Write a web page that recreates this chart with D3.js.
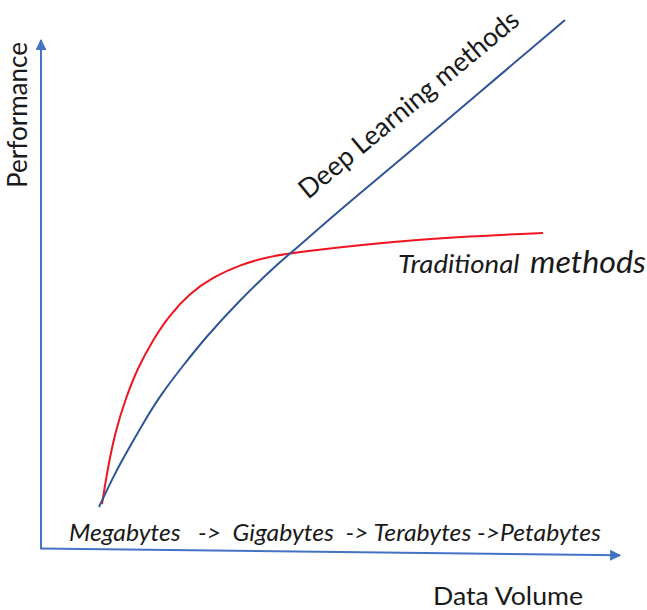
<!DOCTYPE html>
<html><head><meta charset="utf-8">
<script src="https://cdn.jsdelivr.net/npm/d3@7"></script>
<style>
html,body{margin:0;padding:0;background:#fff;}
svg{display:block;}
text{font-family:Lato,"Open Sans",sans-serif;fill:#1a1a1a;white-space:pre;}
</style></head>
<body>
<div id="chart"></div>
<script>
// Data (x: data volume 0-100, y: performance 0-100)
const deepX = [10.17, 12.93, 15.17, 18.10, 21.03, 24.48, 28.45, 34.48, 40.17, 43.45, 52.93, 64.31, 75.86, 90.52];
const deepY = [8.07, 14.76, 19.29, 25.20, 30.51, 35.63, 41.34, 48.82, 55.12, 58.27, 67.72, 78.54, 89.76, 103.94];
const tradX = [10.69, 11.72, 12.93, 14.66, 16.90, 19.48, 22.07, 25.86, 29.83, 34.48, 39.14, 43.10, 64.31, 86.72];
const tradY = [8.66, 15.94, 22.64, 29.13, 35.63, 40.94, 45.47, 50.20, 53.35, 55.71, 57.28, 58.07, 60.83, 62.01];
const xAxisText = "Megabytes   ->  Gigabytes  -> Terabytes ->Petabytes";
const xTitle = "Data Volume";
const yTitle = "Performance";
const deepLabel = "Deep Learning methods";
const tradLabel1 = "Traditional ";
const tradLabel2 = "methods";

const W = 647, H = 610;
const svg = d3.select("#chart").append("svg").attr("width", W).attr("height", H);
const x = d3.scaleLinear().domain([0, 100]).range([40, 620]);
const y = d3.scaleLinear().domain([0, 100]).range([548, 40]);

const defs = svg.append("defs");
defs.append("marker").attr("id", "arrow").attr("viewBox", "0 0 10 10")
  .attr("refX", 9).attr("refY", 5).attr("markerWidth", 5.5).attr("markerHeight", 5.5)
  .attr("markerUnits", "strokeWidth").attr("orient", "auto")
  .append("path").attr("d", "M0,0 L10,5 L0,10 Z").attr("fill", "#4472C4");

const axisColor = "#4472C4";
// y axis
svg.append("line").attr("x1", x(0) + 1).attr("y1", y(0)).attr("x2", x(0) + 1).attr("y2", y(100))
  .attr("stroke", axisColor).attr("stroke-width", 2).attr("marker-end", "url(#arrow)");
// x axis (slightly slanted as in the sketch)
svg.append("line").attr("x1", x(0)).attr("y1", y(0) + 0.5).attr("x2", x(100)).attr("y2", y(-1.45))
  .attr("stroke", axisColor).attr("stroke-width", 2).attr("marker-end", "url(#arrow)");

const line = d3.line().x(d => x(d[0])).y(d => y(d[1])).curve(d3.curveBasis);
svg.append("path").datum(tradX.map((v, i) => [v, tradY[i]])).attr("d", line)
  .attr("fill", "none").attr("stroke", "#F0141E").attr("stroke-width", 2);
svg.append("path").datum(deepX.map((v, i) => [v, deepY[i]])).attr("d", line)
  .attr("fill", "none").attr("stroke", "#2F5597").attr("stroke-width", 2);

// texts
svg.append("text").attr("transform", "translate(27,188) rotate(-90)")
  .attr("font-size", 26).attr("textLength", 146).attr("lengthAdjust", "spacingAndGlyphs").text(yTitle);
svg.append("text").attr("x", 433).attr("y", 605)
  .attr("font-size", 25).attr("textLength", 150).attr("lengthAdjust", "spacingAndGlyphs").text(xTitle);
svg.append("text").attr("x", 69).attr("y", 541).attr("font-style", "italic")
  .attr("font-size", 23).attr("textLength", 532).attr("lengthAdjust", "spacingAndGlyphs").text(xAxisText);
svg.append("text").attr("transform", "translate(308,200) rotate(-39.7)")
  .attr("font-size", 27).attr("textLength", 277).attr("lengthAdjust", "spacingAndGlyphs").text(deepLabel);
svg.append("text").attr("x", 398).attr("y", 273).attr("font-style", "italic")
  .attr("font-size", 26).attr("textLength", 128).attr("lengthAdjust", "spacingAndGlyphs").text(tradLabel1);
svg.append("text").attr("x", 530).attr("y", 273).attr("font-style", "italic")
  .attr("font-size", 30).attr("textLength", 116).attr("lengthAdjust", "spacingAndGlyphs").text(tradLabel2);
</script>
</body></html>
